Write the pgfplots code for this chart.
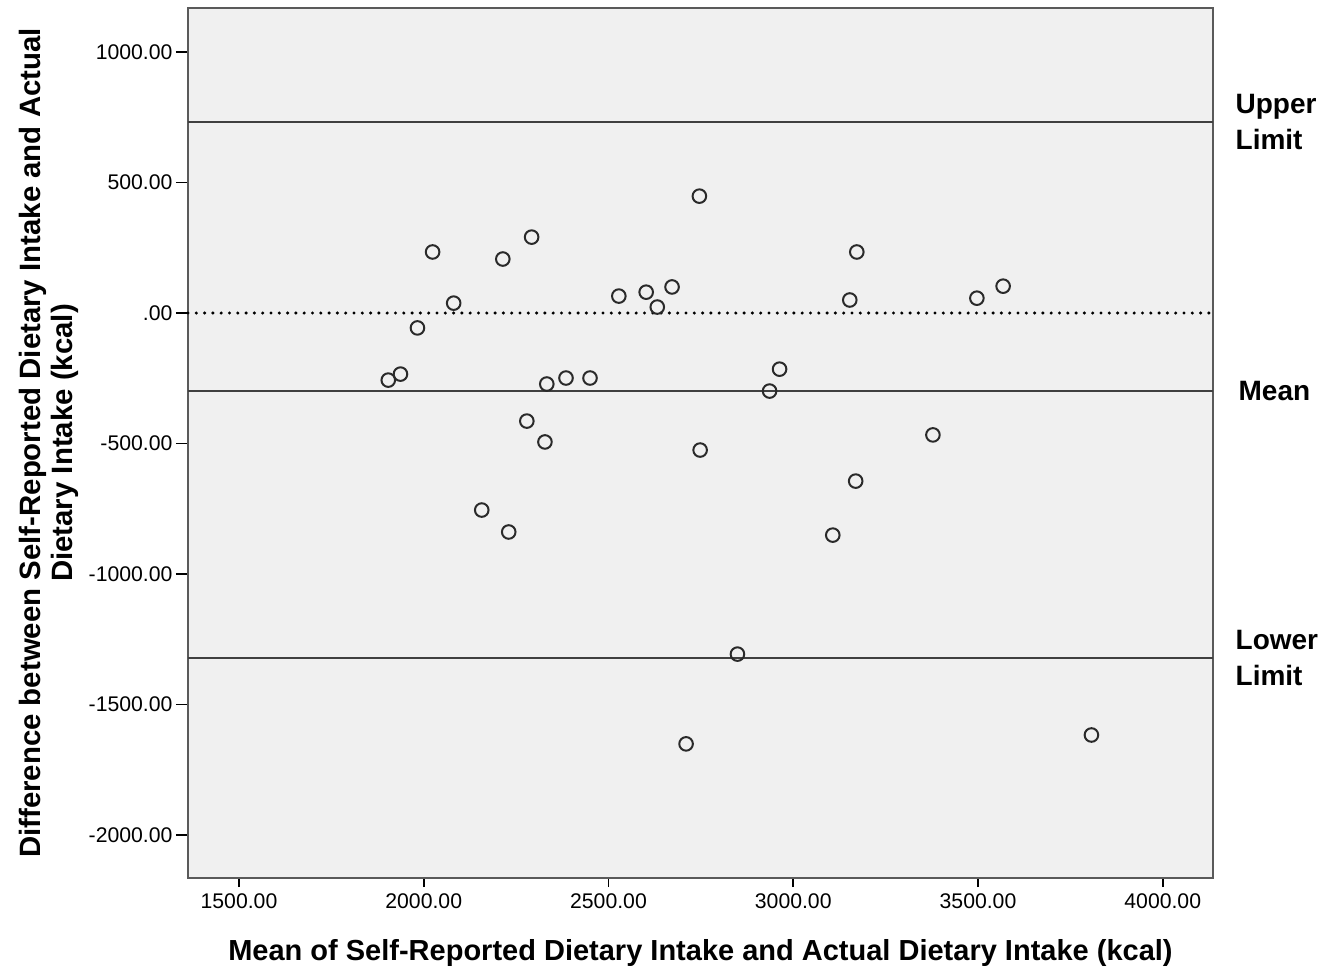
\documentclass[border=0pt]{standalone}
\usepackage{fontspec}
\setmainfont{Liberation Sans}
\usepackage{pgfplots}
\pgfplotsset{compat=1.18}
\definecolor{bg}{HTML}{F0F0F0}
\definecolor{frame}{HTML}{5A5A5A}
\definecolor{lim}{HTML}{404040}
\definecolor{mk}{HTML}{2A2A2A}
\begin{document}
\begin{tikzpicture}
\useasboundingbox (-94pt,-46pt) rectangle (576pt,439pt);
\begin{axis}[
  scale only axis,
  width=512.5pt, height=435pt,
  xmin=1362, xmax=4136, ymin=-2165, ymax=1169,
  axis background/.style={fill=bg},
  axis line style={frame, line width=1pt},
  xtick={1500,2000,2500,3000,3500,4000},
  xticklabels={1500.00,2000.00,2500.00,3000.00,3500.00,4000.00},
  ytick={-2000,-1500,-1000,-500,0,500,1000},
  yticklabels={-2000.00,-1500.00,-1000.00,-500.00,.00,500.00,1000.00},
  tick align=outside,
  xtick style={black, line width=0.8pt, /pgfplots/major tick length=4.5pt},
  ytick style={black, line width=0.8pt, /pgfplots/major tick length=6pt},
  tick label style={font=\fontsize{10.6pt}{12pt}\selectfont},
  xtick pos=bottom, ytick pos=left,
  xlabel={\bfseries Mean of Self-Reported Dietary Intake and Actual Dietary Intake (kcal)},
  xlabel style={font=\fontsize{14.5pt}{16pt}\selectfont, at={(axis description cs:0.5,0)}, anchor=north, yshift=-27pt},
  ylabel={\bfseries Difference between Self-Reported Dietary Intake and Actual\\ \bfseries Dietary Intake (kcal)},
  ylabel style={font=\fontsize{14.7pt}{16pt}\selectfont, align=center, at={(axis description cs:0,0.5)}, anchor=south, yshift=51pt},
  clip=false,
]
\addplot[lim, line width=1pt] coordinates {(1362,732) (4136,732)};
\addplot[lim, line width=1pt] coordinates {(1362,-299) (4136,-299)};
\addplot[lim, line width=1pt] coordinates {(1362,-1322) (4136,-1322)};
\addplot[black, line width=1.7pt, line cap=round, dash pattern=on 0pt off 4.15pt] coordinates {(1362,0) (4136,0)};
\addplot[only marks, mark=o, mark size=3.4pt, mark options={draw=mk, line width=1pt}] coordinates {
(1904,-257) (1937,-234) (1983,-57) (2024,234) (2081,38) (2157,-755)
(2214,207) (2230,-839) (2279,-414) (2292,291) (2328,-494) (2333,-272)
(2385,-249) (2450,-249) (2528,65) (2602,80) (2632,23) (2672,100)
(2746,448) (2748,-525) (2710,-1651) (2849,-1307) (2936,-299) (2963,-215)
(3107,-851) (3153,50) (3172,234) (3169,-644) (3378,-467) (3497,57)
(3568,103) (3807,-1617)
};
\node[anchor=west, align=left, font=\fontsize{14pt}{18pt}\selectfont\bfseries, xshift=7.8pt] at (axis cs:4136,732) {Upper\\Limit};
\node[anchor=west, align=left, font=\fontsize{14pt}{18pt}\selectfont\bfseries, xshift=9.3pt] at (axis cs:4136,-299) {Mean};
\node[anchor=west, align=left, font=\fontsize{14pt}{18pt}\selectfont\bfseries, xshift=7.8pt] at (axis cs:4136,-1322) {Lower\\Limit};
\end{axis}
\end{tikzpicture}
\end{document}
